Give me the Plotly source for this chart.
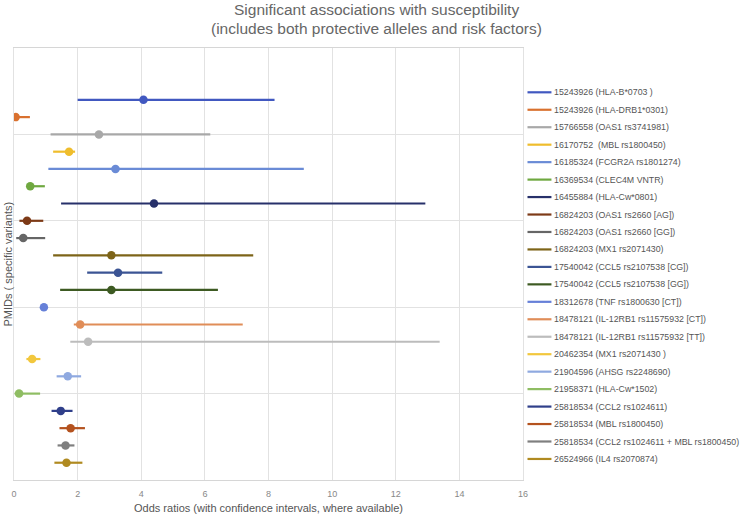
import plotly.graph_objects as go

labels = [
    "15243926 (HLA-B*0703 )",
    "15243926 (HLA-DRB1*0301)",
    "15766558 (OAS1 rs3741981)",
    "16170752  (MBL rs1800450)",
    "16185324 (FCGR2A rs1801274)",
    "16369534 (CLEC4M VNTR)",
    "16455884 (HLA-Cw*0801)",
    "16824203 (OAS1 rs2660 [AG])",
    "16824203 (OAS1 rs2660 [GG])",
    "16824203 (MX1 rs2071430)",
    "17540042 (CCL5 rs2107538 [CG])",
    "17540042 (CCL5 rs2107538 [GG])",
    "18312678 (TNF rs1800630 [CT])",
    "18478121 (IL-12RB1 rs11575932 [CT])",
    "18478121 (IL-12RB1 rs11575932 [TT])",
    "20462354 (MX1 rs2071430 )",
    "21904596 (AHSG rs2248690)",
    "21958371 (HLA-Cw*1502)",
    "25818534 (CCL2 rs1024611)",
    "25818534 (MBL rs1800450)",
    "25818534 (CCL2 rs1024611 + MBL rs1800450)",
    "26524966 (IL4 rs2070874)",
]
odds = [4.07, 0.05, 2.67, 1.73, 3.19, 0.51, 4.40, 0.41, 0.29, 3.06, 3.27,
        3.06, 0.94, 2.08, 2.33, 0.57, 1.69, 0.16, 1.47, 1.78, 1.62, 1.65]
ci_low = [2.00, 0.02, 1.15, 1.23, 1.08, 0.47, 1.48, 0.17, 0.07, 1.23, 2.30,
          1.45, None, 1.88, 1.77, 0.39, 1.34, 0.02, 1.18, 1.43, 1.37, 1.27]
ci_high = [8.19, 0.50, 6.17, 1.92, 9.11, 0.97, 12.93, 0.92, 0.98, 7.52, 4.66,
           6.41, None, 7.19, 13.38, 0.83, 2.11, 0.82, 1.84, 2.23, 1.90, 2.15]
positions = list(range(3, 25))
x_ticks = [0, 2, 4, 6, 8, 10, 12, 14, 16]
title_lines = ["Significant associations with susceptibility",
               "(includes both protective alleles and risk factors)"]

colors = ["#4158c0", "#d9712f", "#a8a8a8", "#efbd2c", "#6a8bd6", "#6fa840",
          "#27306a", "#7d3a17", "#666666", "#7d6418", "#3b5494", "#3d5a22",
          "#6680d8", "#e08d58", "#bcbcbc", "#f2c73d", "#8fa9e0", "#8fbd63",
          "#2f3f8a", "#b4521e", "#7f7f7f", "#b08a20"]

FONT = "Liberation Sans, Arial, sans-serif"
W, H = 740, 515
L, R, T, B = 13.5, 216.5, 48, 35
pw = W - L - R
ph = H - T - B

fig = go.Figure()
for i, lab in enumerate(labels):
    lo = ci_low[i] if ci_low[i] is not None else odds[i]
    hi = ci_high[i] if ci_high[i] is not None else odds[i]
    fig.add_trace(go.Scatter(
        x=[lo, hi], y=[positions[i], positions[i]], mode="lines",
        line=dict(color=colors[i], width=2.2), name=lab, showlegend=False,
        hoverinfo="skip"))
fig.add_trace(go.Scatter(
    x=odds, y=positions, mode="markers",
    marker=dict(color=colors, size=8.5, line=dict(width=0)),
    text=labels, showlegend=False, hovertemplate="%{text}: %{x}<extra></extra>"))


def px_to_paper_x(px):
    return (px - L) / pw


def px_to_paper_y(py):
    return 1 - (py - T) / ph


annotations = []
shapes = []
for i, lab in enumerate(labels):
    py = 92.3 + 17.46 * i
    yp = px_to_paper_y(py)
    shapes.append(dict(type="line", xref="paper", yref="paper",
                       x0=px_to_paper_x(528), x1=px_to_paper_x(552), y0=yp, y1=yp,
                       line=dict(color=colors[i], width=2.2)))
    annotations.append(dict(text=lab, xref="paper", yref="paper",
                            x=px_to_paper_x(553), y=yp, xanchor="left", yanchor="middle",
                            showarrow=False, font=dict(family=FONT, size=8.8, color="#555555")))

annotations.append(dict(text="Odds ratios (with confidence intervals, where available)",
                        xref="paper", yref="paper", x=px_to_paper_x(268.5), y=px_to_paper_y(508),
                        xanchor="center", yanchor="middle", showarrow=False,
                        font=dict(family=FONT, size=11, color="#555555")))
annotations.append(dict(text="PMIDs ( specific variants)", textangle=-90,
                        xref="paper", yref="paper", x=px_to_paper_x(7), y=px_to_paper_y(264),
                        xanchor="center", yanchor="middle", showarrow=False,
                        font=dict(family=FONT, size=11, color="#555555")))
for k, (line_text, cy) in enumerate(zip(title_lines, [10, 28])):
    annotations.append(dict(text=line_text, xref="paper", yref="paper",
                            x=px_to_paper_x(376.5), y=px_to_paper_y(cy),
                            xanchor="center", yanchor="middle", showarrow=False,
                            font=dict(family=FONT, size=15.5, color="#666666")))

fig.update_layout(
    width=W, height=H,
    margin=dict(l=L, r=R, t=T, b=B, pad=0),
    paper_bgcolor="white", plot_bgcolor="white",
    showlegend=False,
    font=dict(family=FONT, color="#666666"),
    annotations=annotations, shapes=shapes,
    xaxis=dict(range=[0, 16], tickvals=x_ticks, ticktext=[str(v) for v in x_ticks],
               showgrid=True, gridcolor="#e2e2e2", gridwidth=1,
               zeroline=False, showline=True, linecolor="#d6d6d6", mirror=True,
               ticks="", tickfont=dict(family=FONT, size=9, color="#888888"),
               ticklabelstandoff=5, fixedrange=True),
    yaxis=dict(range=[25, 0], tickvals=[0, 5, 10, 15, 20, 25], showticklabels=False,
               showgrid=True, gridcolor="#e2e2e2", gridwidth=1,
               zeroline=False, showline=True, linecolor="#e2e2e2", mirror=True,
               ticks="", fixedrange=True),
)

fig.write_html("out.html", config={"displayModeBar": False},
               post_script="document.body.style.margin='0';document.body.style.overflow='hidden';")
